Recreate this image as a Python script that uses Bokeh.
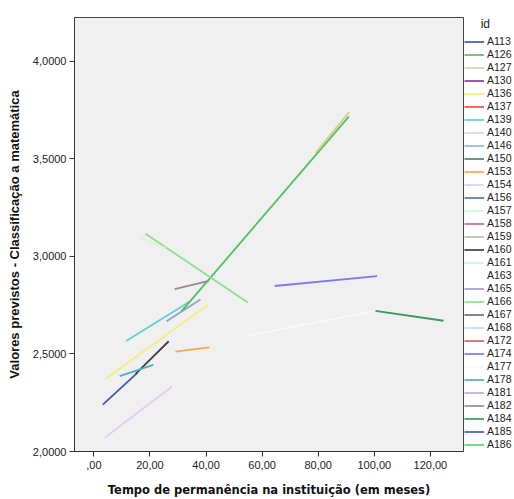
from bokeh.plotting import figure
from bokeh.layouts import row
from bokeh.models import Legend, LegendItem, FixedTicker, Range1d
from bokeh.embed import file_html
from bokeh.resources import INLINE

# legend ids and colours
ids = ["A113", "A126", "A127", "A130", "A136", "A137", "A139", "A140", "A146", "A150",
       "A153", "A154", "A156", "A157", "A158", "A159", "A160", "A161", "A163", "A165",
       "A166", "A167", "A168", "A172", "A174", "A177", "A178", "A181", "A182", "A184",
       "A185", "A186", "A189"]
colors = ["#3d5bb5", "#4cc35c", "#d8d3b4", "#8b3c97", "#f5ee7a", "#e8524c", "#62cfd0", "#dadada",
          "#8fbbe0", "#4c8a66", "#f9a74a", "#e2ccf0", "#4a8090", "#d4f8d4", "#d0629a", "#bcbcbc",
          "#404040", "#ccf2f2", "#ffffff", "#9c9cd0", "#8ce08c", "#707070", "#bcdcf8", "#d06464",
          "#7a7af8", "#f8f8f8", "#52aec6", "#c4a8e0", "#909090", "#3a9a5e", "#4060b8", "#64d274",
          "#dccc88"]

# predicted lines (start / end) per id
line_ids = ["A154", "A113", "A160", "A178", "A136", "A139", "A153", "A165", "A126", "A189",
            "A166", "A157", "A174", "A177", "A184"]
x_start = [3.9, 3.2, 14.9, 9.2, 4.1, 11.5, 29.1, 25.9, 31.3, 79.0, 18.4, 16.6, 64.5, 54.7, 100.4]
x_end = [27.9, 15.5, 26.7, 21.2, 40.5, 34.1, 41.2, 38.0, 90.9, 91.1, 54.9, 25.6, 101.0, 100.4, 124.7]
y_start = [2.071, 2.240, 2.398, 2.386, 2.372, 2.566, 2.512, 2.668, 2.719, 3.529, 3.116, 3.097, 2.848, 2.593, 2.721]
y_end = [2.333, 2.403, 2.565, 2.444, 2.750, 2.767, 2.534, 2.779, 3.716, 3.741, 2.764, 3.041, 2.899, 2.721, 2.670]

# an overlapping (mauve) line
mauve_x = [28.8, 41.0]
mauve_y = [2.832, 2.874]

x_ticks = [0, 20, 40, 60, 80, 100, 120]
x_tick_labels = [",00", "20,00", "40,00", "60,00", "80,00", "100,00", "120,00"]
y_ticks = [2.0, 2.5, 3.0, 3.5, 4.0]
y_tick_labels = ["2,0000", "2,5000", "3,0000", "3,5000", "4,0000"]

nan = float("nan")

p = figure(width=464, height=499, output_backend="svg", toolbar_location=None,
           x_range=Range1d(-6.9, 131.8), y_range=Range1d(2.0, 4.224),
           min_border_left=74, min_border_right=1, min_border_top=17, min_border_bottom=46)
p.background_fill_color = "#f0f0f0"
p.border_fill_color = "white"
p.outline_line_color = "#444444"
p.outline_line_width = 1
p.xgrid.visible = False
p.ygrid.visible = False

for k, i in enumerate(line_ids):
    c = colors[ids.index(i)]
    p.line([x_start[k], x_end[k]], [y_start[k], y_end[k]], line_color=c, line_width=1.8)

p.line(mauve_x, mauve_y, line_color="#9a8696", line_width=1.8)

for ax in (p.xaxis[0], p.yaxis[0]):
    ax.axis_line_color = "#333333"
    ax.major_tick_line_color = "#333333"
    ax.major_tick_out = 5
    ax.major_tick_in = 0
    ax.minor_tick_line_color = None
    ax.major_label_text_font = "Liberation Sans"
    ax.major_label_text_font_size = "11px"
    ax.major_label_text_color = "#222222"
    ax.axis_label_text_font_style = "bold"
    ax.axis_label_text_color = "#111111"

p.xaxis.ticker = FixedTicker(ticks=x_ticks)
p.xaxis.major_label_overrides = dict(zip(x_ticks, x_tick_labels))
p.yaxis.ticker = FixedTicker(ticks=y_ticks)
p.yaxis.major_label_overrides = dict(zip(y_ticks, y_tick_labels))
p.xaxis.major_label_standoff = 4
p.yaxis.major_label_standoff = 3

p.xaxis.axis_label = "Tempo de permanência na instituição (em meses)"
p.xaxis.axis_label_text_font = "DejaVu Sans"
p.xaxis.axis_label_text_font_size = "11.5px"
p.xaxis.axis_label_standoff = 11
p.yaxis.axis_label = "Valores previstos - Classificação a matemática"
p.yaxis.axis_label_text_font = "Liberation Sans"
p.yaxis.axis_label_text_font_size = "13px"
p.yaxis.axis_label_standoff = 8

# legend panel
lg = figure(width=50, height=499, output_backend="svg", toolbar_location=None,
            x_range=Range1d(0, 1), y_range=Range1d(0, 1),
            x_axis_type=None, y_axis_type=None,
            min_border_left=0, min_border_right=0, min_border_top=0, min_border_bottom=0)
lg.outline_line_color = None
lg.background_fill_color = "white"
lg.border_fill_color = "white"
lg.xgrid.visible = False
lg.ygrid.visible = False

items = []
for i, c in zip(ids, colors):
    r = lg.line([nan, nan], [nan, nan], line_color=c, line_width=1.7)
    items.append(LegendItem(label=i, renderers=[r]))

legend = Legend(items=items, location="top_left", padding=0, margin=0, spacing=1,
                glyph_width=20, glyph_height=11, label_height=11, label_standoff=3,
                label_text_font="Liberation Sans", label_text_font_size="10.5px",
                label_text_color="#222222", background_fill_alpha=0,
                border_line_color=None,
                title="\u00a0\u00a0\u00a0\u00a0\u00a0id", title_text_font="Liberation Sans",
                title_text_font_size="12px", title_text_font_style="normal",
                title_text_color="#222222", title_standoff=4)
lg.add_layout(legend, "center")

layout = row(p, lg)
open("out.html", "w").write(file_html(layout, INLINE))
